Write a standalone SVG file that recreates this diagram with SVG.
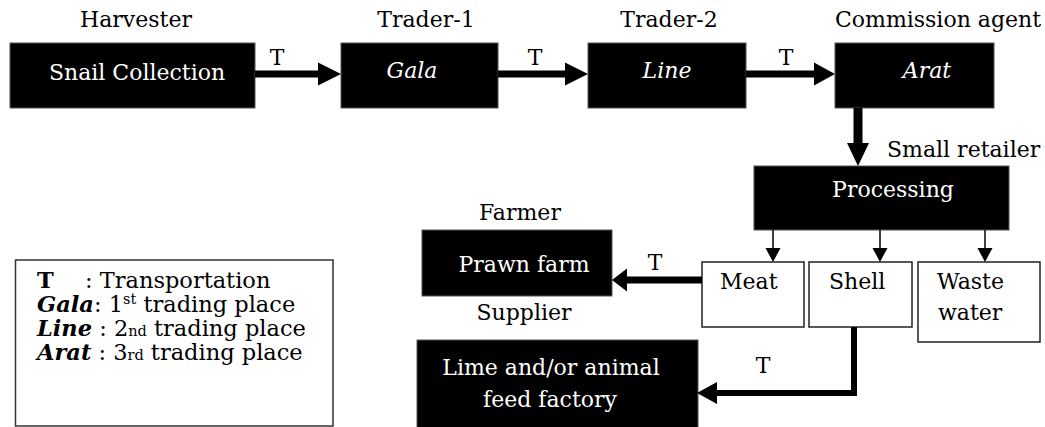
<svg xmlns="http://www.w3.org/2000/svg" width="1045" height="427" viewBox="0 0 1045 427" font-family="'DejaVu Serif', 'Liberation Serif', serif">
<style>
.lbl{fill:#000;text-anchor:middle;font-size:22px;}
.wt{fill:#fff;text-anchor:middle;font-size:22px;}
.bt{fill:#000;font-size:22px;}
.it{font-style:italic;}
.bk{fill:#000;stroke:#555;stroke-width:1;}
.wb{fill:#fff;stroke:#222;stroke-width:1.5;}
.thick{stroke:#000;stroke-width:7;fill:none;}
.thin{stroke:#000;stroke-width:1.5;fill:none;}
.head{fill:#000;}
.leg{font-size:22.5px;fill:#000;}
</style>
<rect width="1045" height="427" fill="#fff"/>

<g id="harvester">
<text class="lbl" x="136" y="27">Harvester</text>
<rect class="bk" x="10" y="43" width="245" height="65"/>
<text class="wt" x="137" y="80">Snail Collection</text>
</g>
<g id="trader1">
<text class="lbl" x="426" y="27">Trader-1</text>
<rect class="bk" x="341" y="43" width="157" height="65"/>
<text class="wt it" x="412" y="78">Gala</text>
</g>
<g id="trader2">
<text class="lbl" x="669" y="27">Trader-2</text>
<rect class="bk" x="588" y="43" width="158" height="65"/>
<text class="wt it" x="667" y="78">Line</text>
</g>
<g id="commission">
<text class="lbl" x="938" y="27">Commission agent</text>
<rect class="bk" x="835" y="43" width="159" height="65"/>
<text class="wt it" x="927" y="78">Arat</text>
</g>
<g id="processing">
<text class="bt" x="887" y="157">Small retailer</text>
<rect class="bk" x="754" y="166" width="255" height="64"/>
<text class="wt" x="893" y="197">Processing</text>
</g>
<g id="meat">
<rect class="wb" x="702" y="262" width="102" height="65"/>
<text class="bt" x="720" y="289">Meat</text>
</g>
<g id="shell">
<rect class="wb" x="809" y="262" width="103" height="65"/>
<text class="bt" x="829" y="289">Shell</text>
</g>
<g id="waste">
<rect class="wb" x="918" y="262" width="122" height="80"/>
<text class="bt" x="937" y="289">Waste</text>
<text class="bt" x="938" y="320">water</text>
</g>
<g id="prawn">
<text class="lbl" x="520" y="220">Farmer</text>
<rect class="bk" x="422" y="230" width="190" height="66"/>
<text class="wt" x="524" y="272">Prawn farm</text>
</g>
<g id="lime">
<text class="lbl" x="524" y="320">Supplier</text>
<rect class="bk" x="417" y="340" width="281" height="90"/>
<text class="wt" x="551" y="375">Lime and/or animal</text>
<text class="wt" x="550" y="407">feed factory</text>
</g>

<g id="connectors">
<line class="thick" x1="255" y1="74" x2="320" y2="74"/>
<polygon class="head" points="318,62.5 341,74 318,85.5"/>
<text class="lbl" x="277" y="65">T</text>

<line class="thick" x1="498" y1="74" x2="567" y2="74"/>
<polygon class="head" points="565,62.5 588,74 565,85.5"/>
<text class="lbl" x="535" y="65">T</text>

<line class="thick" x1="746" y1="74" x2="816" y2="74"/>
<polygon class="head" points="814,62.5 835,74 814,85.5"/>
<text class="lbl" x="786" y="65">T</text>

<line class="thick" style="stroke-width:9" x1="858" y1="108" x2="858" y2="145"/>
<polygon class="head" points="847,143 869,143 858,166"/>

<line class="thin" x1="773" y1="230" x2="773" y2="249"/>
<polygon class="head" points="765.5,248 780.5,248 773,262"/>
<line class="thin" x1="880" y1="230" x2="880" y2="249"/>
<polygon class="head" points="872.5,248 887.5,248 880,262"/>
<line class="thin" x1="985" y1="230" x2="985" y2="249"/>
<polygon class="head" points="977.5,248 992.5,248 985,262"/>

<line class="thick" x1="702" y1="280" x2="625" y2="280"/>
<polygon class="head" points="627,268.5 612,280 627,291.5"/>
<text class="lbl" x="655" y="270">T</text>

<polyline class="thick" style="stroke-width:6" points="854,327 854,393 715,393"/>
<polygon class="head" points="717,382 697,393 717,404"/>
<text class="lbl" x="763" y="373">T</text>
</g>

<g id="legend">
<rect x="15.5" y="260" width="317.5" height="166" fill="#fff" stroke="#333" stroke-width="1.5"/>
<text class="leg" x="37" y="288" font-weight="bold">T</text>
<text class="leg" x="85" y="288">: Transportation</text>
<text class="leg" x="37" y="312"><tspan font-weight="bold" font-style="italic">Gala</tspan>: 1<tspan font-size="14.5" dy="-8">st</tspan><tspan dy="8"> trading place</tspan></text>
<text class="leg" x="37" y="336"><tspan font-weight="bold" font-style="italic">Line</tspan> : 2<tspan font-size="14.5">nd</tspan> trading place</text>
<text class="leg" x="37" y="360"><tspan font-weight="bold" font-style="italic">Arat</tspan> : 3<tspan font-size="14.5">rd</tspan> trading place</text>
</g>
</svg>
